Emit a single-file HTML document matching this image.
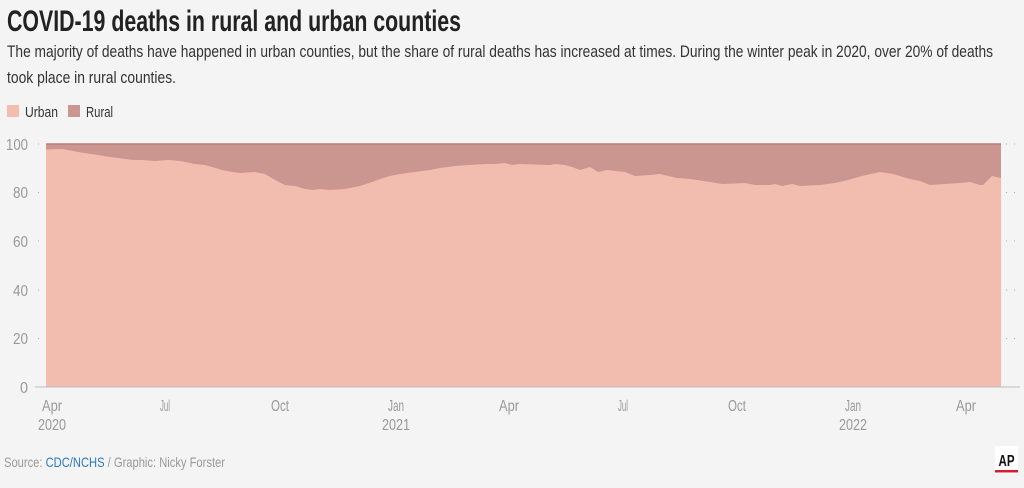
<!DOCTYPE html>
<html><head><meta charset="utf-8"><style>
body{margin:0;background:#f4f4f4;}
svg{display:block;font-family:"Liberation Sans Narrow","Liberation Sans",sans-serif;}
</style></head><body>
<svg width="1024" height="488" viewBox="0 0 1024 488">
<rect width="1024" height="488" fill="#f4f4f4"/>
<text x="7" y="31" font-size="30" font-weight="bold" fill="#222" textLength="454" lengthAdjust="spacingAndGlyphs">COVID-19 deaths in rural and urban counties</text>
<text x="7" y="57" font-size="17" fill="#333" textLength="986" lengthAdjust="spacingAndGlyphs">The majority of deaths have happened in urban counties, but the share of rural deaths has increased at times. During the winter peak in 2020, over 20% of deaths</text>
<text x="7" y="83" font-size="17" fill="#333" textLength="169" lengthAdjust="spacingAndGlyphs">took place in rural counties.</text>
<rect x="7" y="105" width="12" height="12" fill="#f2bcae"/>
<text x="25" y="117" font-size="15" fill="#333" textLength="33" lengthAdjust="spacingAndGlyphs">Urban</text>
<rect x="68" y="105" width="12" height="12" fill="#cc9690"/>
<text x="86" y="117" font-size="15" fill="#333" textLength="27" lengthAdjust="spacingAndGlyphs">Rural</text>
<g stroke="#aaa" stroke-dasharray="1 7" stroke-width="1">
<line x1="38" y1="144" x2="1020" y2="144"/><line x1="38" y1="192.5" x2="1020" y2="192.5"/><line x1="38" y1="241" x2="1020" y2="241"/><line x1="38" y1="290" x2="1020" y2="290"/><line x1="38" y1="338.5" x2="1020" y2="338.5"/>
</g>
<rect x="46" y="144" width="955" height="243" fill="#cc9690"/>
<line x1="46" y1="144" x2="1001" y2="144" stroke="#c07c78" stroke-width="1.5"/>
<path fill="#f2bcae" d="M46,149.5 L63,149 78,152 98,155 110,157 125,159 133,160 142,160 155,161 168,160 180,161 195,164 205,165 212,167 222,170 232,172 240,173 255,172 265,174 275,180 285,185 295,186 305,189 313,190 320,189 330,190 345,189 360,186 372,182 380,179 390,176 400,174 415,172 430,170 440,168 455,166 470,165 485,164 495,164 505,163 512,165 520,164 550,165 555,164 565,165 572,167 580,170 590,167 598,172 607,170 625,172 635,176 650,175 660,174 677,178 690,179 710,182 722,184 745,183 755,185 770,185 775,184 782,186 792,184 800,186 820,185 835,183 848,180 862,176 880,172 893,174 910,179 920,181 930,185 945,184 960,183 970,182 980,185 983,185 992,176 1001,178 L1001,387 L46,387 Z"/>
<line x1="35" y1="387" x2="1020" y2="387" stroke="#bbb" stroke-width="1"/>
<g font-size="16" fill="#999" text-anchor="end" lengthAdjust="spacingAndGlyphs">
<text x="28" y="150" textLength="22" lengthAdjust="spacingAndGlyphs">100</text><text x="28" y="198" textLength="15" lengthAdjust="spacingAndGlyphs">80</text><text x="28" y="247" textLength="15" lengthAdjust="spacingAndGlyphs">60</text><text x="28" y="296" textLength="15" lengthAdjust="spacingAndGlyphs">40</text><text x="28" y="344" textLength="15" lengthAdjust="spacingAndGlyphs">20</text><text x="28" y="393" textLength="8" lengthAdjust="spacingAndGlyphs">0</text>
</g>
<g font-size="16" fill="#999">
<text x="42" y="411" textLength="20" lengthAdjust="spacingAndGlyphs">Apr</text><text x="160" y="411" textLength="10" lengthAdjust="spacingAndGlyphs">Jul</text><text x="271" y="411" textLength="18" lengthAdjust="spacingAndGlyphs">Oct</text><text x="388" y="411" textLength="16" lengthAdjust="spacingAndGlyphs">Jan</text><text x="499" y="411" textLength="20" lengthAdjust="spacingAndGlyphs">Apr</text><text x="618" y="411" textLength="10" lengthAdjust="spacingAndGlyphs">Jul</text><text x="728" y="411" textLength="18" lengthAdjust="spacingAndGlyphs">Oct</text><text x="845" y="411" textLength="16" lengthAdjust="spacingAndGlyphs">Jan</text><text x="956" y="411" textLength="20" lengthAdjust="spacingAndGlyphs">Apr</text>
<text x="38" y="430" textLength="28" lengthAdjust="spacingAndGlyphs">2020</text><text x="382" y="430" textLength="28" lengthAdjust="spacingAndGlyphs">2021</text><text x="839" y="430" textLength="28" lengthAdjust="spacingAndGlyphs">2022</text>
</g>
<text x="4" y="467" font-size="14" fill="#999" textLength="221" lengthAdjust="spacingAndGlyphs">Source: <tspan fill="#2a7bc0">CDC/NCHS</tspan> / Graphic: Nicky Forster</text>
<rect x="995" y="446" width="23" height="28" fill="#fff"/>
<text x="1006.5" y="466" font-size="16" font-weight="bold" fill="#111" text-anchor="middle" textLength="16" lengthAdjust="spacingAndGlyphs">AP</text>
<rect x="995" y="470" width="23" height="2.5" fill="#d0202e"/>
</svg>
</body></html>
